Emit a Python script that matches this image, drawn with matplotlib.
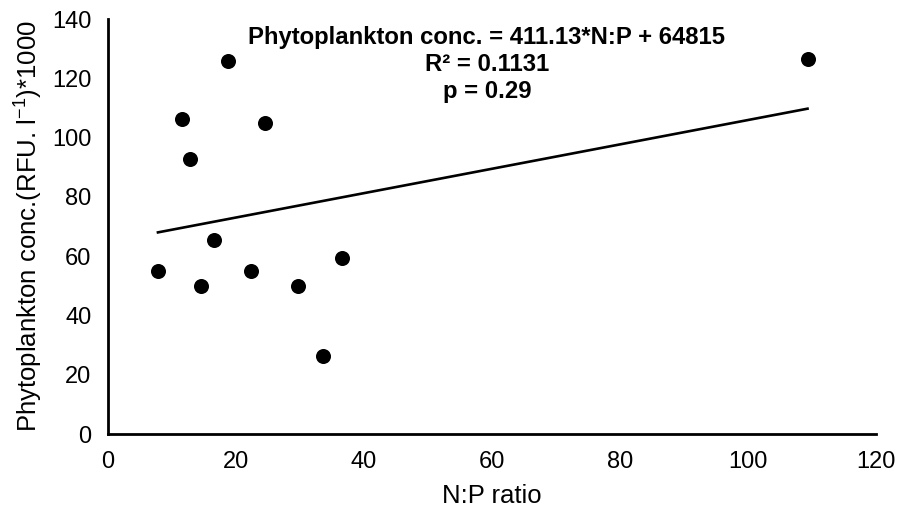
import matplotlib
matplotlib.use("Agg")
import matplotlib.pyplot as plt
import numpy as np

# N:P ratio vs phytoplankton conc. (RFU/l, thousands)
np_ratio = [7.8, 11.5, 12.8, 14.5, 16.6, 18.7, 22.4, 24.6, 29.7, 33.6, 36.5, 109.3]
phyto = [55.1, 106.3, 92.7, 50.0, 65.5, 125.8, 54.9, 104.9, 49.8, 26.2, 59.5, 126.4]

# trendline from the equation shown on the chart (per 1000)
slope = 411.13 / 1000
intercept = 64815 / 1000
eq_text = "Phytoplankton conc. = 411.13*N:P + 64815\nR² = 0.1131\np = 0.29"

plt.rcParams['font.family'] = ['Liberation Sans', 'DejaVu Sans']
plt.rcParams['mathtext.fontset'] = 'custom'
plt.rcParams['mathtext.rm'] = 'Liberation Sans'

fig = plt.figure(figsize=(8.98, 5.14), dpi=100)
ax = fig.add_axes([0.1203, 0.1556, 0.8552, 0.8074])

ax.scatter(np_ratio, phyto, s=117, color='black', zorder=3, linewidths=0)

x_fit = np.array([min(np_ratio), max(np_ratio)])
ax.plot(x_fit, slope * x_fit + intercept, color='black', lw=1.9)

ax.set_xlim(0, 120)
ax.set_ylim(0, 140)
ax.set_xticks(np.arange(0, 121, 20))
ax.set_yticks(np.arange(0, 141, 20))
ax.tick_params(length=0, labelsize=17, pad=12)

for side in ['top', 'right']:
    ax.spines[side].set_visible(False)
for side in ['left', 'bottom']:
    ax.spines[side].set_linewidth(2)

ax.set_xlabel("N:P ratio", fontsize=18.5, labelpad=8)
ax.set_ylabel("Phytoplankton conc.(RFU. l$^{\\mathregular{-1}}$)*1000", fontsize=18.5, labelpad=6)

ax.text(59.2, 124.8, eq_text, ha='center', va='center', multialignment='center',
        fontsize=17.2, fontweight='bold', linespacing=1.22)

fig.savefig('out.png', dpi=100)
